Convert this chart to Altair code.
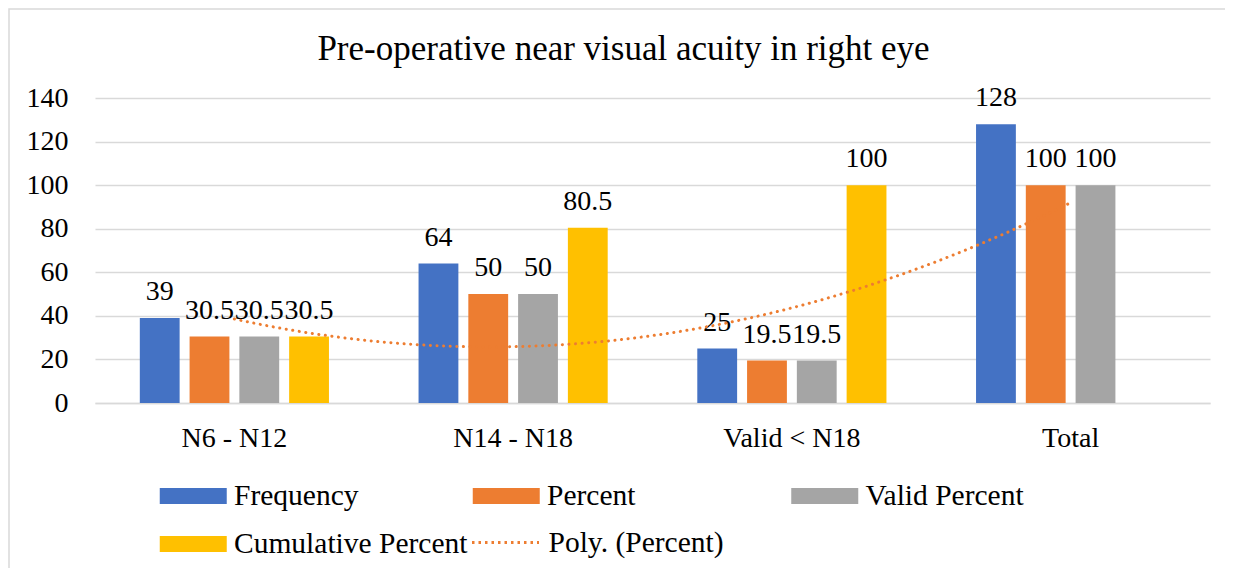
import altair as alt
import pandas as pd

# ---------------- data ----------------
categories = ["N6 - N12", "N14 - N18", "Valid < N18", "Total"]
series_names = ["Frequency", "Percent", "Valid Percent", "Cumulative Percent"]
frequency = [39, 64, 25, 128]
percent = [30.5, 50, 19.5, 100]
valid_percent = [30.5, 50, 19.5, 100]
cumulative_percent = [30.5, 80.5, 100, None]
colors = ["#4472C4", "#ED7D31", "#A5A5A5", "#FFC000"]
trend_name = "Poly. (Percent)"
title_text = "Pre-operative near visual acuity in right eye"
y_ticks = [0, 20, 40, 60, 80, 100, 120, 140]

rows = []
for s, vals in zip(series_names, [frequency, percent, valid_percent, cumulative_percent]):
    for c, v in zip(categories, vals):
        if v is not None:
            rows.append({"category": c, "series": s, "value": v})
df = pd.DataFrame(rows)
trend_df = pd.DataFrame({"idx": list(range(1, len(categories) + 1)), "value": percent})

# ---------------- style ----------------
FONT = "'Liberation Serif', 'Times New Roman', Times, serif"
GRID = "#d9d9d9"
W, H = 1115, 305
PAD = {"left": 87, "top": 90, "right": 15, "bottom": 165}
LEG_FS = 29.5

x_axis = alt.Axis(title=None, labelFont=FONT, labelFontSize=28, labelColor="black",
                  labelPadding=21, ticks=False, domainColor=GRID, domainWidth=1.5,
                  grid=False, labelAngle=0)
y_axis = alt.Axis(title=None, values=y_ticks, labelFont=FONT, labelFontSize=28,
                  labelColor="black", labelPadding=27, ticks=False, domain=False,
                  gridColor=GRID, gridWidth=1.5)

x_enc = alt.X("category:N", sort=categories,
              scale=alt.Scale(domain=categories, paddingInner=0.2857, paddingOuter=0.1429),
              axis=x_axis)
xoff_enc = alt.XOffset("series:N", sort=series_names,
                       scale=alt.Scale(domain=series_names, paddingInner=0.2, paddingOuter=0.1))
y_enc = alt.Y("value:Q", scale=alt.Scale(domain=[0, 140], nice=False), axis=y_axis)

SWATCH = "M-2,-0.478L2,-0.478L2,0.478L-2,0.478Z"


def bar_legend(lx, ly):
    return alt.Legend(title=None, orient="none", legendX=lx, legendY=ly,
                      direction="vertical", symbolType=SWATCH, symbolSize=1122.25,
                      symbolStrokeWidth=0, labelOffset=23.75, rowPadding=16,
                      labelFont=FONT, labelFontSize=LEG_FS, labelColor="black",
                      labelLimit=500, padding=0)


def bar_layer(names, legend):
    return alt.Chart(df).transform_filter(
        alt.FieldOneOfPredicate(field="series", oneOf=names)
    ).mark_bar().encode(
        x=x_enc, xOffset=xoff_enc, y=y_enc,
        color=alt.Color("series:N",
                        scale=alt.Scale(domain=names,
                                        range=[colors[series_names.index(n)] for n in names]),
                        legend=legend),
    )


bars_a = bar_layer(["Frequency", "Cumulative Percent"], bar_legend(81.25, 381))
bars_b = bar_layer(["Percent"], bar_legend(394.25, 381))
bars_c = bar_layer(["Valid Percent"], bar_legend(712.75, 381))

labels = alt.Chart(df).mark_text(font=FONT, fontSize=28, dy=-18, baseline="alphabetic",
                                 color="black").encode(
    x=x_enc, xOffset=xoff_enc, y=y_enc,
    text=alt.Text("value:Q", format="~g"),
)

# decorative chart-area frame (only left and top edges fall inside the picture)
frame = alt.Chart(pd.DataFrame({"f": [0]})).mark_rect(
    fillOpacity=0, stroke=GRID, strokeWidth=1.5
).encode(
    x=alt.value(-PAD["left"] + 1), x2=alt.value(W + PAD["right"] + 20),
    y=alt.value(-PAD["top"] + 1), y2=alt.value(H + PAD["bottom"] + 20),
)

inner = alt.layer(frame, bars_a, bars_b, bars_c, labels).resolve_scale(color="independent")

trend = alt.Chart(trend_df).transform_regression(
    "idx", "value", method="poly", order=2, extent=[1, 4]
).transform_calculate(
    trend=f"'{trend_name}'"
).mark_line(strokeWidth=3, strokeCap="round", strokeDash=[0.1, 6.5]).encode(
    x=alt.X("idx:Q", scale=alt.Scale(domain=[0.5, 4.5], nice=False, zero=False), axis=None),
    y=y_enc,
    color=alt.Color(
        "trend:N",
        scale=alt.Scale(domain=[trend_name], range=[colors[1]]),
        legend=alt.Legend(
            title=None, orient="none", legendX=375.5, legendY=409.5,
            symbolType="stroke", symbolSize=4489, symbolStrokeColor=colors[1],
            symbolStrokeWidth=3, symbolDash=[2.5, 4], labelOffset=8,
            labelFont=FONT, labelFontSize=LEG_FS, labelColor="black", labelLimit=500,
            padding=0,
        ),
    ),
)

chart = alt.layer(inner, trend).resolve_scale(x="independent", color="independent").properties(
    width=W, height=H,
    title=alt.TitleParams(title_text, font=FONT, fontSize=35, fontWeight="normal",
                          color="black", anchor="middle", dx=-29, dy=87, offset=0,
                          baseline="alphabetic"),
    padding=PAD,
    autosize=alt.AutoSizeParams(type="none"),
).configure_view(stroke=None)

chart.save("out.html", embed_options={"renderer": "svg", "actions": False})
